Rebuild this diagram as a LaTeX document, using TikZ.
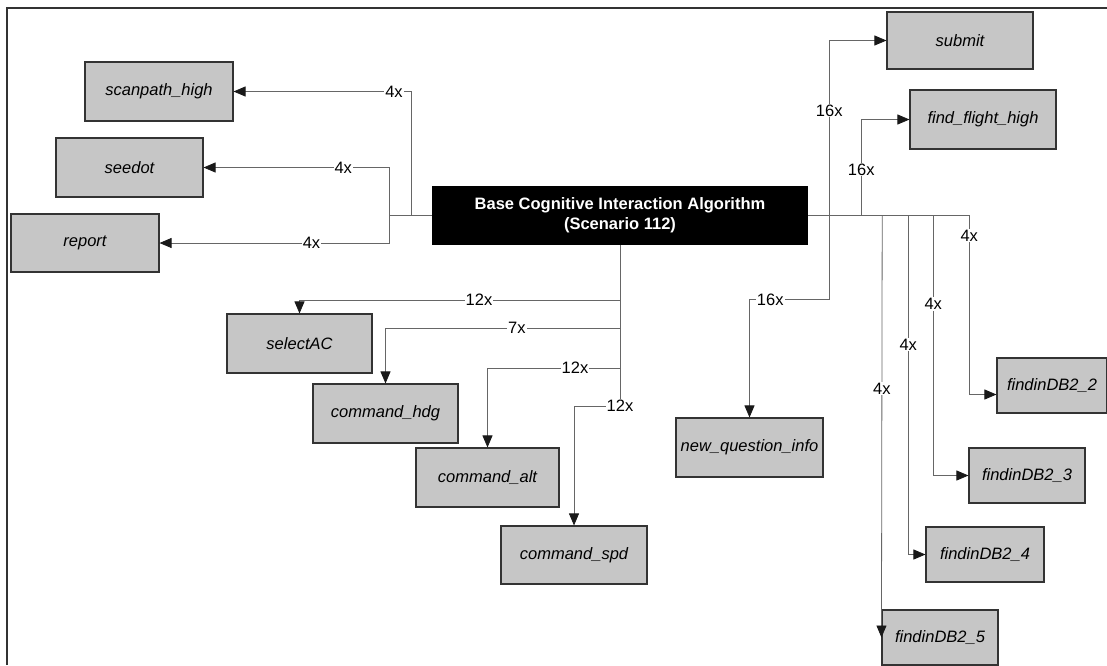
\documentclass[tikz,border=0pt]{standalone}
\usepackage{fontspec}
\setmainfont{Liberation Sans}
\usetikzlibrary{arrows.meta}

\begin{document}
\begin{tikzpicture}[
  x=1pt, y=-1pt,
  >={Triangle[length=12pt,width=10pt,color=black!90]},
  every node/.style={font=\fontsize{16.5}{19}\selectfont},
  task/.style={rectangle, draw=black!80, fill=gray!45, line width=1.1pt, minimum width=146pt, minimum height=58pt, font=\fontsize{16.5}{19}\selectfont\itshape},
  dbtask/.style={task, minimum width=116pt, minimum height=55pt},
  core/.style={rectangle, fill=black, text=white, minimum width=376pt, minimum height=59pt, align=center, font=\fontsize{16.5}{20}\selectfont\bfseries},
  link/.style={->, draw=black!60, line width=0.8pt},
  cnt/.style={fill=white, inner sep=1pt, font=\fontsize{16.5}{19}\selectfont}
]
  \useasboundingbox (0,0) rectangle (1107,665);
  \draw[line width=1.6pt, black!80] (7,665) -- (7,8) -- (1107,8);

  \node[core] (base) at (620,215.5) {Base Cognitive Interaction Algorithm\\(Scenario 112)};

  % left side
  \node[task, minimum width=148pt, minimum height=59pt] (scan) at (159,91.5) {scanpath\_high};
  \node[task, minimum width=147pt, minimum height=59pt] (seedot) at (129.5,167.5) {seedot};
  \node[task, minimum width=148pt] (report) at (85,243) {report};

  % below the base block
  \node[task, minimum width=145pt, minimum height=59pt] (selac) at (299.5,343.5) {selectAC};
  \node[task, minimum width=145pt, minimum height=59pt] (hdg) at (385.5,413.5) {command\_hdg};
  \node[task, minimum width=143pt, minimum height=59pt] (alt) at (487.5,477.5) {command\_alt};
  \node[task] (spd) at (574,555) {command\_spd};
  \node[task, minimum width=147pt, minimum height=59pt] (nqi) at (749.5,447.5) {new\_question\_info};

  % right side
  \node[task, minimum height=57pt] (submit) at (960,40.5) {submit};
  \node[task, minimum height=59pt] (flight) at (983,119.5) {find\_flight\_high};
  \node[dbtask, minimum width=110pt] (db2) at (1052,385.5) {findinDB2\_2};
  \node[dbtask] (db3) at (1027,475.5) {findinDB2\_3};
  \node[dbtask, minimum width=118pt] (db4) at (985,554.5) {findinDB2\_4};
  \node[dbtask] (db5) at (940,637.5) {findinDB2\_5};

  \draw[link] (base.west) -- ++(-20,0) |- node[cnt, pos=0.55] {4x} (scan.east);
  \draw[link] (base.west) -- ++(-42,0) |- node[cnt, pos=0.625] {4x} (seedot.east);
  \draw[link] (base.west) -- ++(-42,0) |- node[cnt, pos=0.67] {4x} (report.east);

  \draw[link] (base.south) -- ++(0,55) -| node[cnt, pos=0.22] {12x} (selac.north);
  \draw[link] (base.south) -- ++(0,83) -| node[cnt, pos=0.22] {7x} (hdg.north);
  \draw[link] (base.south) -- ++(0,123) -| node[cnt, pos=0.17] {12x} (alt.north);
  \draw[link] (base.south) -- ++(0,161) node[cnt] {12x} -| (spd.north);

  \draw[link] (base.east) -- ++(21,0) |- node[cnt, pos=0.3] {16x} (submit.west);
  \draw[link] (base.east) -- ++(53,0) |- node[cnt, pos=0.24] {16x} (flight.west);
  \draw[link] (base.east) -- ++(21,0) -- ++(0,84) -| node[cnt, pos=0.37] {16x} (nqi.north);
  \draw[link] (base.east) -- ++(161,0) |- node[cnt, pos=0.056] {4x} ([yshift=-9pt]db2.west);
  \draw[link] (base.east) -- ++(125,0) |- node[cnt, pos=0.17] {4x} (db3.west);
  \draw[link] (base.east) -- ++(100,0) |- node[cnt, pos=0.19] {4x} (db4.west);
  \draw[link] (base.east) -- ++(74,0) -- node[cnt, pos=0.41] {4x} (db5.west);
\end{tikzpicture}
\end{document}
